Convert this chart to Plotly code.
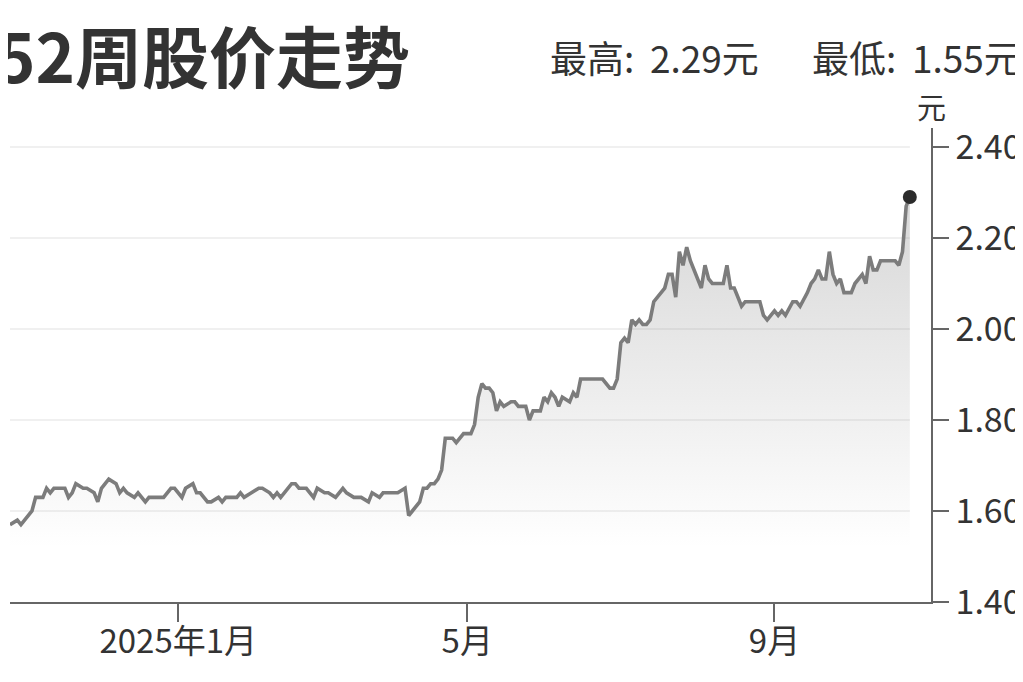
import plotly.graph_objects as go

# ---- data (HK trading days, 52 weeks) ----
dates = [
    "2024-10-25", "2024-10-29", "2024-10-30", "2024-10-31", "2024-11-04", "2024-11-05",
    "2024-11-07", "2024-11-08", "2024-11-11", "2024-11-12", "2024-11-13", "2024-11-15",
    "2024-11-18", "2024-11-19", "2024-11-20", "2024-11-22", "2024-11-25", "2024-11-27",
    "2024-11-28", "2024-11-29", "2024-12-03", "2024-12-05", "2024-12-06", "2024-12-09",
    "2024-12-10", "2024-12-12", "2024-12-13", "2024-12-17", "2024-12-18", "2024-12-20",
    "2024-12-24", "2024-12-30", "2024-12-31",
    "2025-01-03", "2025-01-06", "2025-01-08", "2025-01-09", "2025-01-10", "2025-01-14",
    "2025-01-15", "2025-01-17", "2025-01-20", "2025-01-21", "2025-01-23", "2025-01-24",
    "2025-01-27", "2025-01-28", "2025-02-04", "2025-02-06", "2025-02-07", "2025-02-11",
    "2025-02-12", "2025-02-13", "2025-02-14", "2025-02-17", "2025-02-19", "2025-02-20",
    "2025-02-21", "2025-02-25", "2025-02-27", "2025-02-28", "2025-03-04", "2025-03-05",
    "2025-03-07", "2025-03-11", "2025-03-12", "2025-03-14", "2025-03-18", "2025-03-20",
    "2025-03-21", "2025-03-25", "2025-03-26", "2025-03-28", "2025-04-01", "2025-04-03",
    "2025-04-07", "2025-04-08", "2025-04-09", "2025-04-10", "2025-04-11", "2025-04-14",
    "2025-04-15", "2025-04-16", "2025-04-17", "2025-04-22", "2025-04-23", "2025-04-24",
    "2025-04-25", "2025-04-28", "2025-04-29", "2025-04-30", "2025-05-02", "2025-05-06",
    "2025-05-07", "2025-05-08", "2025-05-09", "2025-05-12", "2025-05-13", "2025-05-14",
    "2025-05-15", "2025-05-16", "2025-05-19", "2025-05-21", "2025-05-22", "2025-05-23",
    "2025-05-26", "2025-05-27", "2025-05-28", "2025-05-29", "2025-05-30", "2025-06-02",
    "2025-06-03", "2025-06-04", "2025-06-05", "2025-06-06", "2025-06-09", "2025-06-10",
    "2025-06-12", "2025-06-13", "2025-06-16", "2025-06-17", "2025-06-18", "2025-06-19",
    "2025-06-20", "2025-06-23", "2025-06-24", "2025-06-25", "2025-06-27", "2025-06-30",
    "2025-07-02", "2025-07-03", "2025-07-04", "2025-07-07", "2025-07-08", "2025-07-09",
    "2025-07-10", "2025-07-11", "2025-07-14", "2025-07-15", "2025-07-16", "2025-07-17",
    "2025-07-18", "2025-07-21", "2025-07-22", "2025-07-23", "2025-07-24", "2025-07-25",
    "2025-07-28", "2025-07-29", "2025-07-30", "2025-07-31", "2025-08-01", "2025-08-04",
    "2025-08-05", "2025-08-06", "2025-08-07", "2025-08-08", "2025-08-11", "2025-08-12",
    "2025-08-13", "2025-08-14", "2025-08-15", "2025-08-19", "2025-08-20", "2025-08-21",
    "2025-08-22", "2025-08-26", "2025-08-27", "2025-08-28", "2025-08-29", "2025-09-01",
    "2025-09-02", "2025-09-03", "2025-09-04", "2025-09-08", "2025-09-09", "2025-09-10",
    "2025-09-12", "2025-09-15", "2025-09-16", "2025-09-17", "2025-09-18", "2025-09-19",
    "2025-09-22", "2025-09-23", "2025-09-24", "2025-09-25", "2025-09-26", "2025-09-29",
    "2025-09-30", "2025-10-02", "2025-10-03", "2025-10-06", "2025-10-08", "2025-10-09",
    "2025-10-10", "2025-10-13", "2025-10-14", "2025-10-15", "2025-10-16", "2025-10-17",
    "2025-10-20", "2025-10-21", "2025-10-22", "2025-10-23", "2025-10-24",
]

prices = [
    1.57, 1.58, 1.57, 1.58, 1.60, 1.63,
    1.63, 1.65, 1.64, 1.65, 1.65, 1.65,
    1.63, 1.64, 1.66, 1.65, 1.65, 1.64,
    1.62, 1.65, 1.67, 1.66, 1.64, 1.65,
    1.64, 1.63, 1.64, 1.62, 1.63, 1.63,
    1.63, 1.65, 1.65,
    1.63, 1.65, 1.66, 1.64, 1.64, 1.62,
    1.62, 1.63, 1.62, 1.63, 1.63, 1.63,
    1.64, 1.63, 1.64, 1.65, 1.65, 1.64,
    1.63, 1.64, 1.63, 1.64, 1.66, 1.66,
    1.65, 1.65, 1.63, 1.65, 1.64, 1.64,
    1.63, 1.65, 1.64, 1.63, 1.63, 1.62,
    1.64, 1.63, 1.64, 1.64, 1.64, 1.65,
    1.59, 1.60, 1.61, 1.62, 1.65, 1.65,
    1.66, 1.66, 1.67, 1.69, 1.76, 1.76,
    1.76, 1.75, 1.76, 1.77, 1.77, 1.77,
    1.79, 1.85, 1.88, 1.87, 1.87, 1.86,
    1.82, 1.84, 1.83, 1.84, 1.84, 1.83,
    1.83, 1.83, 1.80, 1.82, 1.82, 1.82,
    1.85, 1.84, 1.86, 1.85, 1.83, 1.85,
    1.84, 1.86, 1.85, 1.89, 1.89, 1.89,
    1.89, 1.89, 1.89, 1.89, 1.87, 1.87,
    1.89, 1.97, 1.98, 1.97, 2.02, 2.01,
    2.02, 2.01, 2.01, 2.02, 2.06, 2.07,
    2.08, 2.09, 2.12, 2.12, 2.07, 2.17,
    2.14, 2.18, 2.15, 2.13, 2.11, 2.09,
    2.14, 2.11, 2.10, 2.10, 2.10, 2.10,
    2.14, 2.09, 2.09, 2.05, 2.06, 2.06,
    2.06, 2.06, 2.03, 2.02, 2.03, 2.04,
    2.03, 2.04, 2.03, 2.06, 2.06, 2.05,
    2.08, 2.10, 2.11, 2.13, 2.11, 2.11,
    2.17, 2.12, 2.10, 2.11, 2.08, 2.08,
    2.08, 2.10, 2.11, 2.12, 2.10, 2.16,
    2.13, 2.13, 2.15, 2.15, 2.15, 2.15,
    2.15, 2.14, 2.17, 2.27, 2.29,
]

holidays = [
    "2024-12-25", "2024-12-26", "2025-01-01", "2025-01-29", "2025-01-30", "2025-01-31",
    "2025-04-04", "2025-04-18", "2025-04-21", "2025-05-01", "2025-05-05", "2025-07-01",
    "2025-10-01", "2025-10-07", "2025-10-29",
]

y_ticks = [1.40, 1.60, 1.80, 2.00, 2.20, 2.40]
x_tick_dates = ["2025-01-02", "2025-05-02", "2025-09-01"]
x_tick_text = ["2025年1月", "5月", "9月"]

title_text = "52周股价走势"
high_text = "最高:\u2009 2.29元"
low_text = "最低:\u2009 1.55元"
unit_text = "元"

FONT = "Noto Sans CJK SC"
TXT = "#333333"
AXIS = "#666666"

fig = go.Figure()

fig.add_trace(go.Scatter(
    x=dates, y=prices, mode="lines",
    line=dict(color="#7c7c7c", width=3.6),
    fill="tozeroy",
    fillgradient=dict(
        type="vertical",
        colorscale=[[0, "rgba(128,128,128,0.0)"], [1, "rgba(128,128,128,0.32)"]],
        start=1.52, stop=2.30,
    ),
    hoverinfo="skip", showlegend=False,
))

fig.add_trace(go.Scatter(
    x=[dates[-1]], y=[prices[-1]], mode="markers",
    marker=dict(color="#2b2b2b", size=14),
    hoverinfo="skip", showlegend=False, cliponaxis=False,
))

# faint horizontal guides spanning the data
for v in y_ticks[1:]:
    fig.add_shape(type="line", xref="x", yref="y",
                  x0=dates[0], x1=dates[-1], y0=v, y1=v,
                  line=dict(color="#f0f0f0", width=2), layer="below")

# page has an 8px body margin; figure coords = page coords - 8
plot_left, plot_right, plot_top, plot_bot = 2, 923, 120, 594
pw = plot_right - plot_left
ph = plot_bot - plot_top
span = (y_ticks[-1] - y_ticks[0]) / 455 * ph

fig.update_layout(
    width=1023, height=682,
    margin=dict(l=plot_left, r=1023 - plot_right, t=plot_top, b=682 - plot_bot),
    paper_bgcolor="white", plot_bgcolor="white",
    font=dict(family=FONT, color=TXT),
    xaxis=dict(
        type="date",
        range=["2024-10-25", "2025-11-03 19:00"],
        rangebreaks=[dict(bounds=["sat", "mon"]), dict(values=holidays)],
        tickvals=x_tick_dates, ticktext=x_tick_text,
        ticks="outside", ticklen=18, tickwidth=1.5, tickcolor=AXIS,
        ticklabelstandoff=-8,
        showline=True, linecolor=AXIS, linewidth=1.5,
        showgrid=False, zeroline=False,
        tickfont=dict(family=FONT, size=33, color=TXT),
    ),
    yaxis=dict(
        side="right",
        range=[y_ticks[0], y_ticks[0] + span],
        tickvals=y_ticks, ticktext=[f"{v:.2f}" for v in y_ticks],
        ticks="outside", ticklen=16, tickwidth=1.5, tickcolor=AXIS,
        showline=True, linecolor=AXIS, linewidth=1.5,
        showgrid=False, zeroline=False,
        tickfont=dict(family=FONT, size=34, color=TXT),
    ),
)

def py(yfig):
    return 1 + (plot_top - yfig) / ph

def px(xfig):
    return (xfig - plot_left) / pw

fig.add_annotation(text=f"<b>{title_text}</b>", xref="paper", yref="paper",
                   x=px(-14), y=py(45), xanchor="left", yanchor="middle",
                   showarrow=False, font=dict(family=FONT, size=67, color=TXT))
fig.add_annotation(text=high_text, xref="paper", yref="paper",
                   x=px(540), y=py(49), xanchor="left", yanchor="middle",
                   showarrow=False, font=dict(family=FONT, size=37, color=TXT))
fig.add_annotation(text=low_text, xref="paper", yref="paper",
                   x=px(802), y=py(49), xanchor="left", yanchor="middle",
                   showarrow=False, font=dict(family=FONT, size=37, color=TXT))
fig.add_annotation(text=unit_text, xref="paper", yref="paper",
                   x=1.0, y=py(98), xanchor="center", yanchor="middle",
                   showarrow=False, font=dict(family=FONT, size=29, color=TXT))

fig.write_html("out.html")
